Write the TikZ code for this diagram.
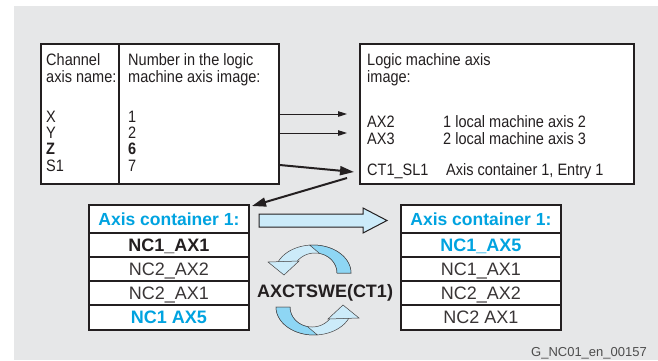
\documentclass[tikz,border=0pt]{standalone}
\usepackage{fontspec}
\setmainfont{Liberation Sans}
\newfontfamily\narrowsans[FakeStretch=0.88]{Liberation Sans}
\usetikzlibrary{calc,arrows.meta}

\definecolor{bggray}{HTML}{E6E7E8}
\definecolor{ink}{HTML}{231F20}
\definecolor{cblue}{HTML}{00A3E0}
\definecolor{ribbonlight}{HTML}{CCEBF9}
\definecolor{ribbondark}{HTML}{8ED6F4}
\definecolor{footgray}{HTML}{4D4D4D}

\tikzset{
  frame/.style={draw=ink, line width=1.8pt, fill=white, inner sep=0pt, anchor=north west},
  toptxt/.style={anchor=base west, inner sep=0pt, text=ink,
                 font=\narrowsans\fontsize{16.5}{17}\selectfont},
  cell/.style={draw=ink, line width=1.8pt, fill=white, minimum width=160pt,
               inner sep=0pt, anchor=north west, text height=12.5pt, text depth=0pt,
               text=ink!90, font=\fontsize{18}{20}\selectfont},
  headcell/.style={cell, minimum height=28pt, text=cblue,
               font=\bfseries\fontsize{17.5}{20}\selectfont},
  thinarrow/.style={draw=ink, line width=1pt, -{Triangle[length=9pt,width=5.5pt]}},
  thickarrow/.style={draw=ink, line width=2pt, -{Triangle[length=14pt,width=9pt]}},
  ribbonline/.style={draw=ink!85, line width=0.5pt},
}

\begin{document}
\begin{tikzpicture}[x=1pt,y=-1pt]
\useasboundingbox (0,0) rectangle (658,360);
\fill[bggray] (14,6) rectangle (658,360);

% ---- channel axis table ----
\node[frame, minimum width=238pt, minimum height=140pt] (chtab) at (40,43) {};
\draw[ink, line width=1.8pt] ($(chtab.north west)+(79,0)$) -- ($(chtab.south west)+(79,0)$);

\node[toptxt] (c1) at (46,65) {Channel};
\node[toptxt] (c2) at (46,82) {axis name:};
\node[toptxt] (cx) at (46,122) {X};
\node[toptxt] (cy) at (46,138) {Y};
\node[toptxt] (cz) at (46,154) {\bfseries Z};
\node[toptxt] (cs) at (46,171) {S1};

\node[toptxt] (n1) at (128,65) {Number in the logic};
\node[toptxt] (n2) at (128,82) {machine axis image:};
\node[toptxt] (nx) at (128,122) {1};
\node[toptxt] (ny) at (128,138) {2};
\node[toptxt] (nz) at (128,154) {\bfseries 6};
\node[toptxt] (ns) at (128,171) {7};

% ---- logic machine axis image ----
\node[frame, minimum width=274pt, minimum height=140pt] (lmtab) at (359,43) {};
\node[toptxt] (l1) at (367,65) {Logic machine axis};
\node[toptxt] (l2) at (367,82) {image:};
\node[toptxt] (ax2) at (367,127) {AX2};
\node[toptxt] (ax3) at (367,144) {AX3};
\node[toptxt] (ct) at (367,175) {CT1\_SL1};
\node[toptxt] (ax2t) at (443,127) {1 local machine axis 2};
\node[toptxt] (ax3t) at (443,144) {2 local machine axis 3};
\node[toptxt] (ctt) at (446,175) {Axis container 1, Entry 1};

% ---- axis container, before ----
\node[headcell] (la) at (88,204) {Axis container 1:};
\node[cell, minimum height=24pt, font=\bfseries\fontsize{18}{20}\selectfont, text=ink] (lb) at (88,232) {NC1\_AX1};
\node[cell, minimum height=24pt] (lc) at (88,256) {NC2\_AX2};
\node[cell, minimum height=24pt] (ld) at (88,280) {NC2\_AX1};
\node[cell, minimum height=25pt, font=\bfseries\fontsize{18}{20}\selectfont, text=cblue] (le) at (88,304) {NC1 AX5};

% ---- axis container, after ----
\node[headcell] (ra) at (400,204) {Axis container 1:};
\node[cell, minimum height=24pt, font=\bfseries\fontsize{18}{20}\selectfont, text=cblue] (rb) at (400,232) {NC1\_AX5};
\node[cell, minimum height=24pt] (rc) at (400,256) {NC1\_AX1};
\node[cell, minimum height=24pt] (rd) at (400,280) {NC2\_AX2};
\node[cell, minimum height=25pt] (re) at (400,304) {NC2 AX1};

% ---- mapping arrows ----
\coordinate (p1s) at (chtab.east |- 0,114);
\coordinate (p1e) at (347,114);
\coordinate (p2s) at (chtab.east |- 0,133);
\coordinate (p2e) at (347,133);
\coordinate (p3s) at (chtab.east |- 0,165);
\coordinate (p3e) at (354,172);
\coordinate (p4s) at (347,178);
\coordinate (p4e) at (252,206);
\draw[thinarrow] (p1s) -- (p1e);
\draw[thinarrow] (p2s) -- (p2e);
\draw[thickarrow] (p3s) -- (p3e);
\draw[thickarrow] (p4s) -- (p4e);

% ---- wide arrow between the containers ----
\draw[draw=ink, line width=1pt, fill=ribbonlight, line join=miter]
  (259,214) -- (363,214) -- (363,208) -- (387,220.5) -- (363,233) -- (363,227) -- (259,227) -- cycle;

% ---- swap ribbons ----
\foreach \rot in {0,180}{
  \begin{scope}[rotate around={\rot:(313.5,290)}]
    \filldraw[ribbonline, fill=ribbonlight]
      plot[domain=157:0, samples=40] ({313+38*cos(\x)},{273-28*sin(\x)})
      -- plot[domain=0:147, samples=40] ({315+22*cos(\x)},{273-20*sin(\x)}) -- cycle;
    \filldraw[ribbonline, fill=ribbondark]
      plot[domain=95:0, samples=30] ({313+38*cos(\x)},{273-28*sin(\x)})
      -- plot[domain=0:78, samples=30] ({315+22*cos(\x)},{273-20*sin(\x)}) -- cycle;
    \filldraw[ribbonline, fill=ribbonlight, line join=miter]
      (268,262) -- (299,261) -- (284,275) -- cycle;
  \end{scope}
}

\node[anchor=base, inner sep=0pt, text=ink, font=\bfseries\fontsize{18}{20}\selectfont] (swap) at (325,297) {AXCTSWE(CT1)};

% ---- figure id ----
\node[anchor=base east, inner sep=0pt, text=footgray, font=\fontsize{13}{15}\selectfont] (figid) at (647,356) {G\_NC01\_en\_00157};
\end{tikzpicture}
\end{document}
